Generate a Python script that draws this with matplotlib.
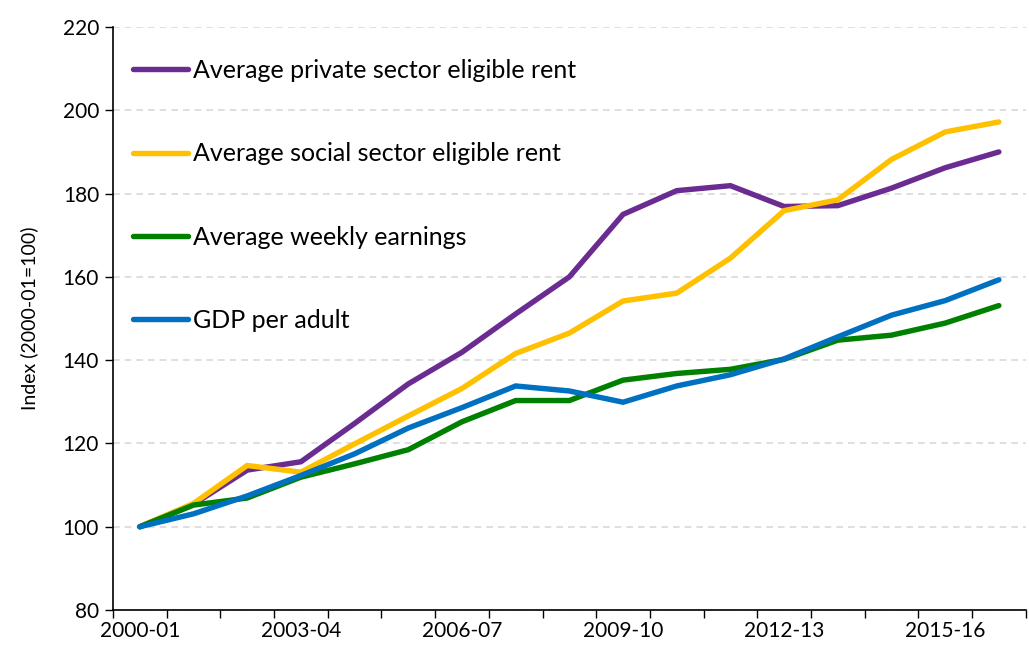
import matplotlib
matplotlib.use("Agg")
import matplotlib.pyplot as plt
import numpy as np

plt.rcParams['font.family'] = ['Lato', 'DejaVu Sans']

years = ["2000-01", "2001-02", "2002-03", "2003-04", "2004-05", "2005-06",
         "2006-07", "2007-08", "2008-09", "2009-10", "2010-11", "2011-12",
         "2012-13", "2013-14", "2014-15", "2015-16", "2016-17"]

private_rent = [100, 105.4, 113.6, 115.6, 124.8, 134.3, 141.9, 151.1, 160.0,
                175.0, 180.7, 181.9, 176.9, 177.1, 181.3, 186.2, 190.0]
social_rent = [100, 105.6, 114.7, 113.1, 119.9, 126.6, 133.2, 141.6, 146.5,
               154.2, 156.1, 164.5, 175.9, 178.5, 188.2, 194.8, 197.2]
earnings = [100, 105.2, 106.9, 111.9, 115.1, 118.5, 125.2, 130.3, 130.3,
            135.2, 136.8, 137.8, 140.2, 144.8, 146.0, 148.9, 153.1]
gdp_adult = [100, 103.1, 107.4, 112.3, 117.5, 123.7, 128.6, 133.8, 132.6,
             129.9, 133.8, 136.5, 140.3, 145.6, 150.8, 154.3, 159.3]

series = [
    ("Average private sector eligible rent", private_rent, "#6B2C91"),
    ("Average social sector eligible rent", social_rent, "#FFC000"),
    ("Average weekly earnings", earnings, "#008000"),
    ("GDP per adult", gdp_adult, "#0070C0"),
]

fig = plt.figure(figsize=(10.29, 6.46), dpi=100)
ax = fig.add_axes([0.1098, 0.0557, 0.887, 0.9025])

x = np.arange(len(years))
for label, vals, col in series:
    ax.plot(x, vals, color=col, lw=3.9, label=label, solid_capstyle='round',
            solid_joinstyle='miter')

ax.set_ylim(80, 220)
ax.set_yticks(np.arange(80, 221, 20))
ax.set_xlim(-0.5, len(years) - 0.5)
ax.set_xticks(np.arange(-0.5, len(years), 1))
ax.set_xticklabels([])
ax.set_xticks(x[::3], minor=True)
ax.set_xticklabels(years[::3], minor=True)
ax.tick_params(axis='x', which='minor', length=0, pad=8, labelsize=15)
ax.tick_params(axis='x', which='major', length=6, direction='out', width=1)
ax.tick_params(axis='y', length=6, direction='out', width=1, labelsize=15, pad=4)

ax.yaxis.grid(True, color='#D9D9D9', linestyle=(0, (4, 3)), lw=1.2)
ax.set_axisbelow(True)
for s in ['top', 'right']:
    ax.spines[s].set_visible(False)
for s in ['left', 'bottom']:
    ax.spines[s].set_linewidth(1.2)

ax.set_ylabel("Index (2000-01=100)", fontsize=14, labelpad=18)

leg = ax.legend(loc='upper left', bbox_to_anchor=(0.022, 0.945), frameon=False,
                fontsize=18, labelspacing=2.41, handlelength=2.2,
                handletextpad=0.2, borderaxespad=0, borderpad=0)

fig.savefig("out.png", dpi=100)
